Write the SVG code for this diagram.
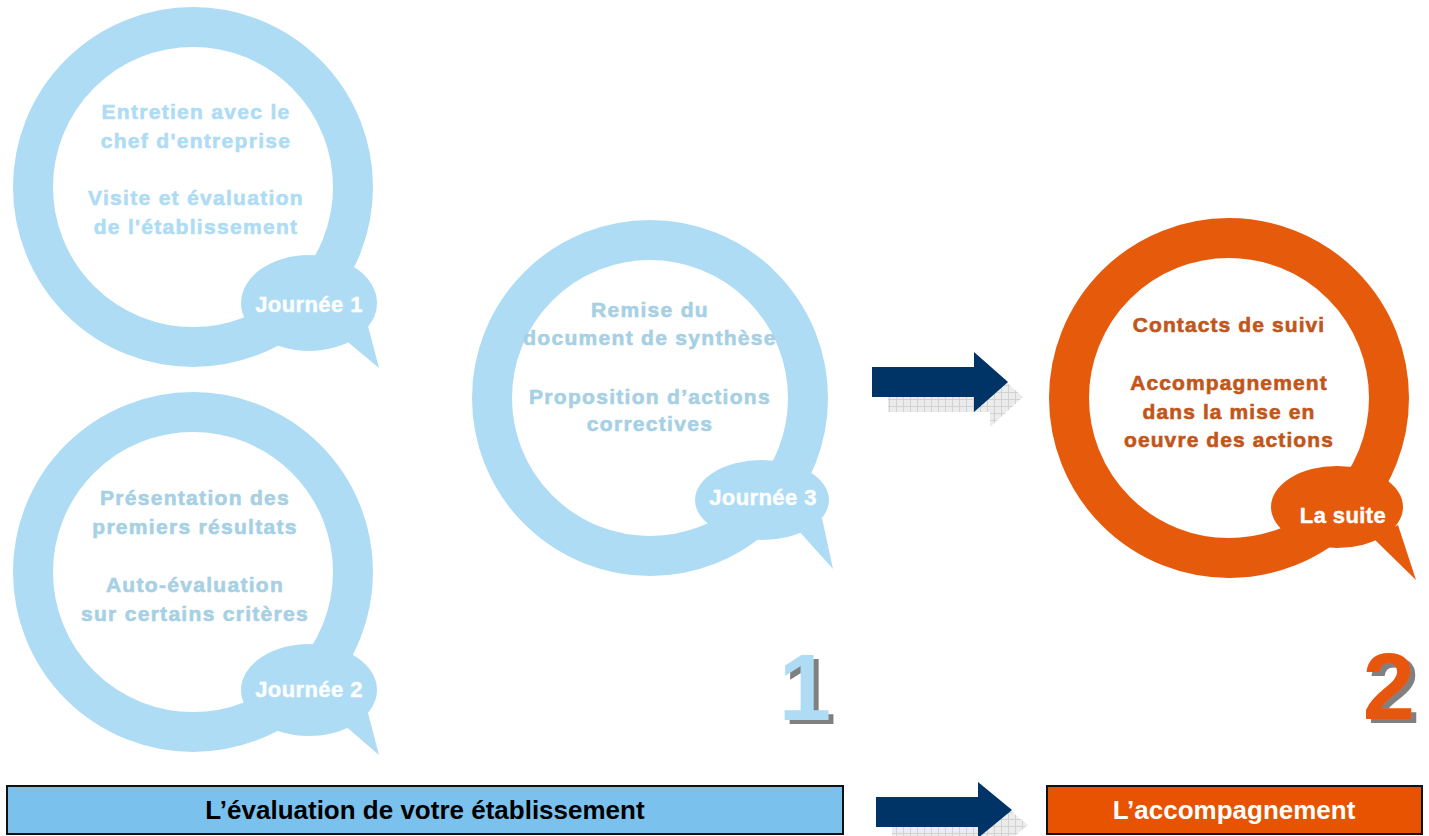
<svg xmlns="http://www.w3.org/2000/svg" width="1429" height="836" viewBox="0 0 1429 836">
<defs>
<pattern id="grid" width="7" height="7" patternUnits="userSpaceOnUse">
<rect width="7" height="7" fill="#ececec"/>
<path d="M0 0.5H7M0.5 0V7" stroke="#d2d2d2" stroke-width="1"/>
</pattern>
<filter id="numShadow" x="-20%" y="-20%" width="150%" height="150%">
<feOffset in="SourceAlpha" dx="5" dy="4" result="off"/>
<feFlood flood-color="#808080"/>
<feComposite in2="off" operator="in" result="sh"/>
<feMerge><feMergeNode in="sh"/><feMergeNode in="SourceGraphic"/></feMerge>
</filter>
<style>
.ringB{fill:none;stroke:#aedcf4;stroke-width:40}
.fillB{fill:#aedcf4}
.ringO{fill:none;stroke:#e65a0c;stroke-width:40}
.fillO{fill:#e65a0c}
.t{font-family:"Liberation Sans",Arial,sans-serif;font-weight:bold;text-anchor:middle}
.tb1{font-size:21px;letter-spacing:1.3px;fill:#aedcf4;stroke:#aedcf4;stroke-width:0.6px}
.tb2{font-size:21px;letter-spacing:1.3px;fill:#a6d0e4;stroke:#a6d0e4;stroke-width:0.6px}
.to{font-size:21px;letter-spacing:1.1px;fill:#c2561a;stroke:#c2561a;stroke-width:0.6px}
.lab{font-size:22px;letter-spacing:0.4px;fill:#ffffff;stroke:#ffffff;stroke-width:0.4px}
.num{font-size:94px;filter:url(#numShadow)}
.arrow{fill:#003366}
.shadow{fill:url(#grid)}
.box{stroke:#111111;stroke-width:2}
.boxt{font-size:26px}
</style>
</defs>

<g id="journee1">
<circle class="ringB" cx="193" cy="187" r="160"/>
<ellipse class="fillB" cx="309" cy="303" rx="68" ry="48"/>
<polygon class="fillB" points="343,338 368,326 379,368"/>
<text class="t tb1" x="196" y="119">Entretien avec le</text>
<text class="t tb1" x="196" y="148">chef d'entreprise</text>
<text class="t tb1" x="196" y="205">Visite et évaluation</text>
<text class="t tb1" x="196" y="234">de l'établissement</text>
<text class="t lab" x="309" y="312">Journée 1</text>
</g>

<g id="journee2">
<circle class="ringB" cx="193" cy="572" r="160"/>
<ellipse class="fillB" cx="309" cy="690" rx="68" ry="46"/>
<polygon class="fillB" points="343,724 368,713 379,755"/>
<text class="t tb2" x="195" y="505">Présentation des</text>
<text class="t tb2" x="195" y="534">premiers résultats</text>
<text class="t tb2" x="195" y="592">Auto-évaluation</text>
<text class="t tb2" x="195" y="621">sur certains critères</text>
<text class="t lab" x="309" y="697">Journée 2</text>
</g>

<g id="journee3">
<circle class="ringB" cx="650" cy="398" r="158"/>
<ellipse class="fillB" cx="762" cy="500" rx="67" ry="40"/>
<polygon class="fillB" points="798,530 822,518 833,569"/>
<text class="t tb2" x="650" y="317">Remise du</text>
<text class="t tb2" x="650" y="345">document de synthèse</text>
<text class="t tb2" x="650" y="404">Proposition d’actions</text>
<text class="t tb2" x="650" y="431">correctives</text>
<text class="t lab" x="763" y="505">Journée 3</text>
</g>

<g id="lasuite">
<circle class="ringO" cx="1229" cy="398" r="160"/>
<ellipse class="fillO" cx="1337" cy="507" rx="66" ry="41"/>
<polygon class="fillO" points="1373,538 1398,525 1416,580"/>
<text class="t to" x="1229" y="332">Contacts de suivi</text>
<text class="t to" x="1229" y="390">Accompagnement</text>
<text class="t to" x="1229" y="419">dans la mise en</text>
<text class="t to" x="1229" y="447">oeuvre des actions</text>
<text class="t lab" x="1343" y="523">La suite</text>
</g>

<g id="num1">
<text class="t num" x="805" y="720" fill="#aedcf4">1</text>
</g>

<g id="num2">
<text class="t num" x="1389" y="719" fill="#e8560a">2</text>
</g>

<g id="box-evaluation">
<rect class="box" x="7" y="786" width="836" height="48" fill="#7bc1ee"/>
<text class="t boxt" x="425" y="819" fill="#000000">L’évaluation de votre établissement</text>
</g>

<g id="box-accompagnement">
<rect class="box" x="1047" y="786" width="375" height="48" fill="#e75300"/>
<text class="t boxt" x="1234" y="819" fill="#ffffff">L’accompagnement</text>
</g>

<g id="connectors">
<g id="arrow-top">
<polygon class="shadow" points="888,382 990,382 990,367 1023,397 990,427 990,412 888,412"/>
<polygon class="arrow" points="872,367 974,367 974,352 1008,382 974,412 974,397 872,397"/>
</g>
<g id="arrow-bottom">
<polygon class="shadow" points="892,812 994,812 994,797 1028,825 994,853 994,842 892,842"/>
<polygon class="arrow" points="876,797 978,797 978,782 1012,810 978,838 978,827 876,827"/>
</g>
</g>
</svg>
